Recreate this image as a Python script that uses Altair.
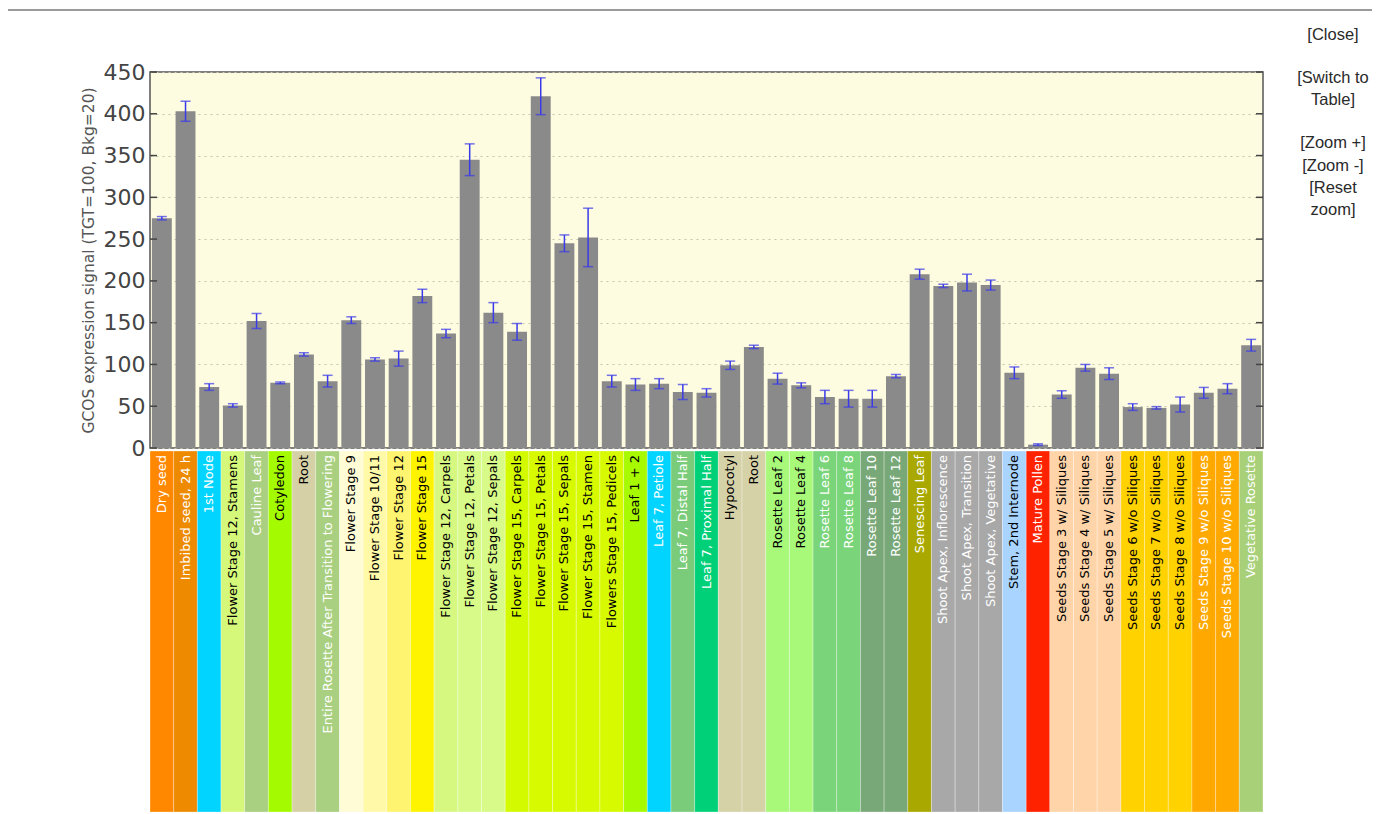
import altair as alt
import pandas as pd

tissues = [
    "Dry seed", "Imbibed seed, 24 h", "1st Node", "Flower Stage 12, Stamens",
    "Cauline Leaf", "Cotyledon", "Root", "Entire Rosette After Transition to Flowering",
    "Flower Stage 9", "Flower Stage 10/11", "Flower Stage 12", "Flower Stage 15",
    "Flower Stage 12, Carpels", "Flower Stage 12, Petals", "Flower Stage 12, Sepals",
    "Flower Stage 15, Carpels", "Flower Stage 15, Petals", "Flower Stage 15, Sepals",
    "Flower Stage 15, Stamen", "Flowers Stage 15, Pedicels", "Leaf 1 + 2",
    "Leaf 7, Petiole", "Leaf 7, Distal Half", "Leaf 7, Proximal Half", "Hypocotyl",
    "Root", "Rosette Leaf 2", "Rosette Leaf 4", "Rosette Leaf 6", "Rosette Leaf 8",
    "Rosette Leaf 10", "Rosette Leaf 12", "Senescing Leaf", "Shoot Apex, Inflorescence",
    "Shoot Apex, Transition", "Shoot Apex, Vegetative", "Stem, 2nd Internode",
    "Mature Pollen", "Seeds Stage 3 w/ Siliques", "Seeds Stage 4 w/ Siliques",
    "Seeds Stage 5 w/ Siliques", "Seeds Stage 6 w/o Siliques", "Seeds Stage 7 w/o Siliques",
    "Seeds Stage 8 w/o Siliques", "Seeds Stage 9 w/o Siliques", "Seeds Stage 10 w/o Siliques",
    "Vegetative Rosette",
]
values = [275, 403, 73, 51, 152, 78, 112, 80, 153, 106, 107, 182, 137, 345, 162,
          139, 421, 245, 252, 80, 76, 77, 67, 66, 99, 121, 83, 75, 61, 59,
          59, 86, 208, 194, 198, 195, 90, 4, 64, 96, 89, 49, 48, 52, 66, 71, 123]
errors = [2, 12, 4, 2, 9, 1, 2, 7, 4, 2, 9, 8, 5, 19, 12,
          10, 22, 10, 35, 7, 7, 6, 9, 5, 5, 2, 6.5, 3, 8, 10,
          10, 2, 6, 2, 10, 6, 7, 1, 4.5, 4, 7, 4, 1.5, 9, 6.5, 6, 7]
band_colors = [
    "#FF8800", "#EE8A00", "#00D4FF", "#D6F87A", "#A8D080", "#A4FA00", "#D6D0A6", "#A8D080",
    "#FFFCD6", "#FFF9A8", "#FFF470", "#FFF400", "#D6F880", "#D8FA88", "#D8FA88",
    "#D4FA00", "#D8FA00", "#D8FA00", "#D8FA00", "#D8FA00", "#A8FA00",
    "#00D4FF", "#7ACC7A", "#00D078", "#D6D2A8", "#D6D2A8", "#A8F87A", "#A8F87A",
    "#7AD47A", "#7AD47A", "#78A878", "#78A878", "#A8A800", "#A8A8A8", "#A8A8A8",
    "#A8A8A8", "#A8D4FF", "#FF2200", "#FFD4A8", "#FFD4A8", "#FFD4A8", "#FFD200",
    "#FFD200", "#FFD200", "#FFA800", "#FFA800", "#A8D078",
]
text_colors = [
    "white", "white", "white", "black", "white", "black", "black", "white",
    "black", "black", "black", "black", "black", "black", "black",
    "black", "black", "black", "black", "black", "black",
    "white", "white", "white", "black", "black", "black", "black",
    "white", "white", "white", "white", "white", "white", "white",
    "white", "black", "white", "black", "black", "black", "black",
    "black", "black", "white", "white", "white",
]
y_ticks = [0, 50, 100, 150, 200, 250, 300, 350, 400, 450]
link_lines = ["[Close]", "[Switch to", "Table]", "[Zoom +]", "[Zoom -]", "[Reset", "zoom]"]
link_rows = [-37, 6, 28, 71, 94, 116, 138]

df = pd.DataFrame({
    "id": list(range(len(tissues))),
    "tissue": tissues,
    "value": values,
    "lo": [v - e for v, e in zip(values, errors)],
    "hi": [v + e for v, e in zip(values, errors)],
    "band": band_colors,
    "tcolor": text_colors,
})
ticks_df = pd.DataFrame({"t": y_ticks})

W, H = 1113, 376
xenc = alt.X("id:O", sort=None, axis=None,
             scale=alt.Scale(paddingInner=0, paddingOuter=0))
yscale = alt.Scale(domain=[0, 450], nice=False, zero=True)

base = alt.Chart(df)

bands = base.mark_rect(stroke="white", strokeWidth=0.6, strokeOpacity=0.5).encode(
    x=xenc, y=alt.value(H + 3), y2=alt.value(H + 364),
    color=alt.Color("band:N", scale=None),
)
band_text = base.mark_text(angle=270, align="right", baseline="middle",
                           fontSize=13, font="DejaVu Sans").encode(
    x=xenc, y=alt.value(H + 7), text="tissue:N",
    color=alt.Color("tcolor:N", scale=None),
)
bars = base.mark_bar(color="#8a8a8a", width=alt.RelativeBandSize(0.84)).encode(
    x=xenc,
    y=alt.Y("value:Q", scale=yscale,
            axis=alt.Axis(values=y_ticks, grid=True, gridDash=[2, 4], gridColor="#c4c4b0",
                          gridWidth=1.2, ticks=False, tickSize=0, domain=False,
                          labelFontSize=22, labelColor="#444", labelFont="DejaVu Sans",
                          labelPadding=5,
                          title="GCOS expression signal (TGT=100, Bkg=20)",
                          titleFontSize=15.5, titleFontWeight="normal", titleColor="#555",
                          titleFont="DejaVu Sans", titlePadding=7)),
)
err = base.mark_rule(color="#3a3aea", strokeWidth=1.5).encode(
    x=xenc, y=alt.Y("lo:Q", scale=yscale), y2="hi:Q")
cap_lo = base.mark_tick(color="#3a3aea", size=10, thickness=1.5, orient="horizontal").encode(
    x=xenc, y=alt.Y("lo:Q", scale=yscale))
cap_hi = base.mark_tick(color="#3a3aea", size=10, thickness=1.5, orient="horizontal").encode(
    x=xenc, y=alt.Y("hi:Q", scale=yscale))

left_ticks = alt.Chart(ticks_df).mark_rule(color="#444", strokeWidth=1.5).encode(
    y=alt.Y("t:Q", scale=yscale), x=alt.value(0), x2=alt.value(7))
right_ticks = alt.Chart(ticks_df).mark_rule(color="#444", strokeWidth=1.5).encode(
    y=alt.Y("t:Q", scale=yscale), x=alt.value(W - 7), x2=alt.value(W))

page_line = alt.Chart(ticks_df.head(1)).mark_rule(color="#9a9a9a", strokeWidth=2).encode(
    x=alt.value(-150), x2=alt.value(W + 120), y=alt.value(-62))

links = []
for txt, yy in zip(link_lines, link_rows):
    links.append(
        alt.Chart(ticks_df.head(1)).mark_text(
            text=txt, fontSize=16.5, font="Liberation Sans", color="#2a2a2a",
            align="center", baseline="middle").encode(
            x=alt.value(W + 70), y=alt.value(yy))
    )

chart = alt.layer(bands, band_text, bars, err, cap_lo, cap_hi, left_ticks, right_ticks,
                  page_line, *links).properties(
    width=W, height=H,
    autosize=alt.AutoSizeParams(type="none"),
    padding={"left": 142, "top": 64, "right": 109, "bottom": 365},
    background="white",
).configure_view(
    fill="#FDFBE0", stroke="#555", strokeWidth=1.5,
)

chart.save("out.html", embed_options={"renderer": "svg", "actions": False})
